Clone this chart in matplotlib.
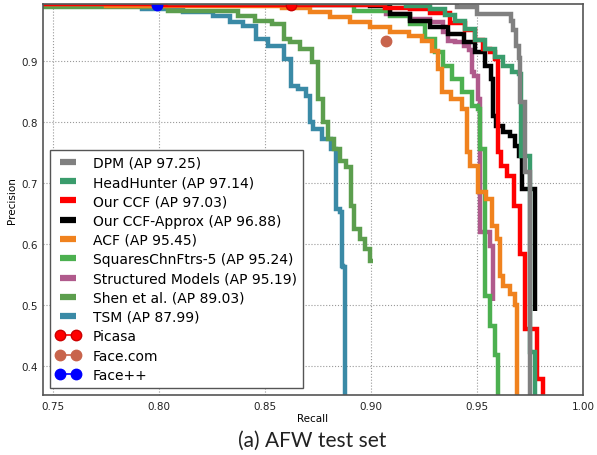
import matplotlib
matplotlib.use("Agg")
import matplotlib.pyplot as plt

# ---------------- data (recall, precision) ----------------
dpm_r = [0.70, 0.9387, 0.9420, 0.9500, 0.9500, 0.9656, 0.9665, 0.9679, 0.9693, 0.9703, 0.9703, 0.9726, 0.9726, 0.9750, 0.9750]
dpm_p = [0.996, 0.996, 0.988, 0.988, 0.977, 0.977, 0.965, 0.950, 0.925, 0.905, 0.833, 0.833, 0.718, 0.718, 0.340]

hh_r = [0.70, 0.910, 0.9231, 0.9325, 0.9373, 0.9420, 0.9467, 0.9514, 0.9561, 0.9608, 0.9642, 0.9689, 0.9708, 0.9708, 0.9750, 0.9750, 0.9774, 0.9774]
hh_p = [0.996, 0.995, 0.990, 0.985, 0.975, 0.966, 0.952, 0.935, 0.920, 0.907, 0.892, 0.882, 0.879, 0.744, 0.744, 0.423, 0.423, 0.340]

ccf_r = [0.70, 0.8995, 0.9137, 0.9231, 0.9325, 0.9420, 0.9467, 0.9514, 0.9547, 0.9575, 0.9599, 0.9599, 0.9623, 0.9656, 0.9693, 0.9703, 0.9703, 0.9726, 0.9726, 0.9783, 0.9783, 0.9811, 0.9811]
ccf_p = [0.994, 0.992, 0.987, 0.985, 0.978, 0.962, 0.950, 0.935, 0.920, 0.915, 0.903, 0.751, 0.728, 0.712, 0.662, 0.662, 0.584, 0.584, 0.461, 0.461, 0.379, 0.379, 0.340]

ccfa_r = [0.70, 0.895, 0.9042, 0.9137, 0.9231, 0.9325, 0.9406, 0.9467, 0.9514, 0.9561, 0.9575, 0.9575, 0.9608, 0.9642, 0.9665, 0.9689, 0.9703, 0.9712, 0.9712, 0.9774, 0.9774]
ccfa_p = [0.995, 0.993, 0.990, 0.977, 0.966, 0.956, 0.944, 0.931, 0.915, 0.892, 0.870, 0.810, 0.793, 0.784, 0.777, 0.761, 0.744, 0.744, 0.690, 0.690, 0.490]

acf_r = [0.70, 0.850, 0.8665, 0.8759, 0.8854, 0.8948, 0.9042, 0.9137, 0.9217, 0.9264, 0.9311, 0.9325, 0.9349, 0.9406, 0.9453, 0.9453, 0.9481, 0.9524, 0.9561, 0.9585, 0.9608, 0.9608, 0.9642, 0.9665, 0.9689, 0.9689]
acf_p = [0.993, 0.990, 0.986, 0.980, 0.972, 0.964, 0.956, 0.948, 0.941, 0.933, 0.916, 0.887, 0.849, 0.838, 0.821, 0.751, 0.728, 0.685, 0.674, 0.630, 0.608, 0.548, 0.531, 0.518, 0.500, 0.340]

sq_r = [0.70, 0.880, 0.9042, 0.9137, 0.9231, 0.9278, 0.9325, 0.9358, 0.9406, 0.9453, 0.9500, 0.9514, 0.9514, 0.9538, 0.9538, 0.9561, 0.9561, 0.9585, 0.9585, 0.9599, 0.9599]
sq_p = [0.995, 0.992, 0.982, 0.974, 0.961, 0.936, 0.915, 0.892, 0.870, 0.849, 0.826, 0.821, 0.756, 0.756, 0.515, 0.515, 0.466, 0.466, 0.418, 0.418, 0.340]

sm_r = [0.70, 0.900, 0.9137, 0.9231, 0.9325, 0.9358, 0.9373, 0.9420, 0.9453, 0.9476, 0.9476, 0.9500, 0.9514, 0.9514, 0.9561, 0.9561, 0.9575, 0.9575]
sm_p = [0.995, 0.992, 0.977, 0.969, 0.964, 0.947, 0.933, 0.931, 0.925, 0.918, 0.882, 0.875, 0.838, 0.620, 0.620, 0.597, 0.597, 0.507]

shen_r = [0.70, 0.775, 0.8335, 0.8415, 0.8491, 0.8571, 0.8604, 0.8632, 0.8698, 0.8745, 0.8759, 0.8792, 0.8807, 0.8840, 0.8868, 0.8901, 0.8910, 0.8934, 0.8962, 0.8986, 0.9009]
shen_p = [0.995, 0.988, 0.982, 0.974, 0.966, 0.961, 0.936, 0.931, 0.920, 0.898, 0.838, 0.800, 0.772, 0.756, 0.736, 0.726, 0.662, 0.625, 0.608, 0.592, 0.572]

tsm_r = [0.70, 0.780, 0.8038, 0.8193, 0.8321, 0.8349, 0.8443, 0.8476, 0.8557, 0.8618, 0.8632, 0.8679, 0.8712, 0.8712, 0.8745, 0.8792, 0.8830, 0.8840, 0.8863, 0.8863, 0.8877, 0.8877]
tsm_p = [0.995, 0.990, 0.985, 0.980, 0.974, 0.964, 0.957, 0.936, 0.925, 0.903, 0.859, 0.854, 0.843, 0.800, 0.789, 0.772, 0.756, 0.657, 0.652, 0.564, 0.562, 0.340]

picasa_r, picasa_p = [0.8623], [0.9918]
facecom_r, facecom_p = [0.9071], [0.9328]
faceplus_r, faceplus_p = [0.7990], [0.9918]

labels = ["DPM (AP 97.25)", "HeadHunter (AP 97.14)", "Our CCF (AP 97.03)",
          "Our CCF-Approx (AP 96.88)", "ACF (AP 95.45)", "SquaresChnFtrs-5 (AP 95.24)",
          "Structured Models (AP 95.19)", "Shen et al. (AP 89.03)", "TSM (AP 87.99)"]
point_labels = ["Picasa", "Face.com", "Face++"]

curves = [(dpm_r, dpm_p), (hh_r, hh_p), (ccf_r, ccf_p), (ccfa_r, ccfa_p), (acf_r, acf_p),
          (sq_r, sq_p), (sm_r, sm_p), (shen_r, shen_p), (tsm_r, tsm_p)]
colors = ["#808080", "#3a9c6c", "#ff0000", "#000000", "#f0821e",
          "#4cb050", "#b05a8c", "#5c9e4e", "#3a8aa6"]
point_colors = ["#ff0000", "#c8644c", "#0000ff"]

# ---------------- figure ----------------
fig = plt.figure(figsize=(5.97, 4.56), dpi=100)
ax = fig.add_axes([43/597, 1-396/456, 540/597, 391.5/456])

handles = []
n = len(curves)
for i, ((r, p), c, lab) in enumerate(zip(curves, colors, labels)):
    h, = ax.plot(r, p, color=c, lw=3.2, label=lab, zorder=10 + (n - i),
                 drawstyle="steps-mid", solid_joinstyle="miter", solid_capstyle="butt")
    handles.append(h)

for r, p, c, lab in zip([picasa_r, facecom_r, faceplus_r], [picasa_p, facecom_p, faceplus_p],
                        point_colors, point_labels):
    h, = ax.plot(r, p, marker="o", ms=7.5, color=c, mec=c if c != "#ff0000" else "#cc0000",
                 lw=1.2, label=lab, zorder=30)
    handles.append(h)

ax.set_xlim(0.7453, 1.0)
ax.set_ylim(0.3525, 0.9940)
ax.set_xticks([0.75, 0.80, 0.85, 0.90, 0.95, 1.00])
ax.set_xticklabels(["0.75", "0.80", "0.85", "0.90", "0.95", "1.00"])
ax.set_yticks([0.4, 0.5, 0.6, 0.7, 0.8, 0.9])
ax.tick_params(labelsize=7.5, colors="#222222", length=0, pad=4)
ax.grid(True, linestyle=":", color="#999999", lw=0.8)
for s in ax.spines.values():
    s.set_color("#555555")
    s.set_linewidth(1.2)
    s.set_zorder(40)

ax.set_xlabel("Recall", fontsize=7.5, labelpad=2)
ax.set_ylabel("Precision", fontsize=7.5, labelpad=3)

leg = ax.legend(handles=handles, loc="lower left", fontsize=10.0, numpoints=2,
                handlelength=1.75, handletextpad=0.9, labelspacing=0.38,
                borderaxespad=0.5, borderpad=0.45, fancybox=False, framealpha=1)
leg.get_frame().set_edgecolor("#555555")
leg.get_frame().set_linewidth(1.0)
leg.set_zorder(50)
for lh in leg.get_lines()[:9]:
    lh.set_linewidth(4.5)

fig.text(312/597, 1-441/456, "(a) AFW test set", ha="center", va="center",
         fontsize=15, family=["Lato", "DejaVu Sans"], color="#222222")

fig.savefig("out.png", dpi=100)
